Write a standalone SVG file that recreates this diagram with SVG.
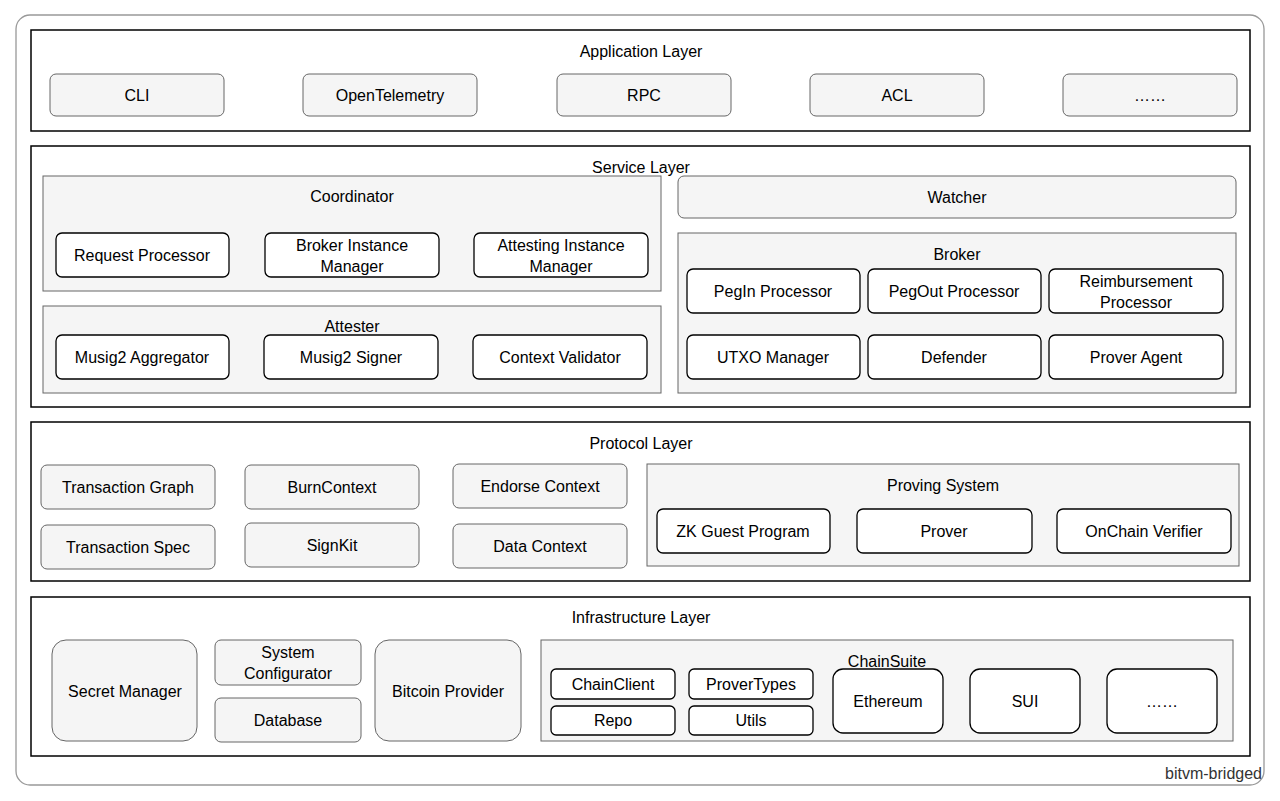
<svg xmlns="http://www.w3.org/2000/svg" width="1280" height="801" viewBox="0 0 1280 801">
<style>
text{font-family:"Liberation Sans",Arial,sans-serif;font-size:16px;fill:#000;text-anchor:middle;dominant-baseline:central}
.layer{fill:#fff;stroke:#000;stroke-width:1.5}
.g{fill:#f5f5f5;stroke:#666;stroke-width:1}
.w{fill:#fff;stroke:#000;stroke-width:1.3}
</style>
<rect x="16" y="15" width="1248" height="770" rx="14" fill="#fff" stroke="#999" stroke-width="1.3"/>
<text x="1262" y="773" style="text-anchor:end;fill:#333">bitvm-bridged</text>
<g id="app">
<rect class="layer" x="31" y="30" width="1219" height="101"/>
<text x="641" y="51">Application Layer</text>
<rect class="g" x="50" y="74" width="174" height="42" rx="6"/><text x="137" y="95">CLI</text>
<rect class="g" x="303" y="74" width="174" height="42" rx="6"/><text x="390" y="95">OpenTelemetry</text>
<rect class="g" x="557" y="74" width="174" height="42" rx="6"/><text x="644" y="95">RPC</text>
<rect class="g" x="810" y="74" width="174" height="42" rx="6"/><text x="897" y="95">ACL</text>
<rect class="g" x="1063" y="74" width="174" height="42" rx="6"/><text x="1150" y="95">……</text>
</g>
<g id="service">
<rect class="layer" x="31" y="146" width="1219" height="261"/>
<text x="641" y="167">Service Layer</text>
<rect class="g" x="43" y="176" width="618" height="115"/><text x="352" y="196">Coordinator</text>
<rect class="w" x="56" y="233" width="173" height="44" rx="6"/><text x="142" y="255">Request Processor</text>
<rect class="w" x="265" y="233" width="174" height="44" rx="6"/><text x="352" y="245">Broker Instance</text><text x="352" y="266">Manager</text>
<rect class="w" x="474" y="233" width="174" height="44" rx="6"/><text x="561" y="245">Attesting Instance</text><text x="561" y="266">Manager</text>
<rect class="g" x="43" y="306" width="618" height="87"/><text x="352" y="326">Attester</text>
<rect class="w" x="56" y="335" width="173" height="44" rx="6"/><text x="142" y="357">Musig2 Aggregator</text>
<rect class="w" x="264" y="335" width="174" height="44" rx="6"/><text x="351" y="357">Musig2 Signer</text>
<rect class="w" x="473" y="335" width="174" height="44" rx="6"/><text x="560" y="357">Context Validator</text>
<rect class="g" x="678" y="176" width="558" height="42" rx="6"/><text x="957" y="197">Watcher</text>
<rect class="g" x="678" y="233" width="558" height="160"/><text x="957" y="254">Broker</text>
<rect class="w" x="687" y="269" width="173" height="44" rx="6"/><text x="773" y="291">PegIn Processor</text>
<rect class="w" x="868" y="269" width="173" height="44" rx="6"/><text x="954" y="291">PegOut Processor</text>
<rect class="w" x="1049" y="269" width="174" height="44" rx="6"/><text x="1136" y="281">Reimbursement</text><text x="1136" y="302">Processor</text>
<rect class="w" x="687" y="335" width="173" height="44" rx="6"/><text x="773" y="357">UTXO Manager</text>
<rect class="w" x="868" y="335" width="173" height="44" rx="6"/><text x="954" y="357">Defender</text>
<rect class="w" x="1049" y="335" width="174" height="44" rx="6"/><text x="1136" y="357">Prover Agent</text>
</g>
<g id="protocol">
<rect class="layer" x="31" y="422" width="1219" height="159"/>
<text x="641" y="443">Protocol Layer</text>
<rect class="g" x="41" y="465" width="174" height="44" rx="6"/><text x="128" y="487">Transaction Graph</text>
<rect class="g" x="245" y="465" width="174" height="44" rx="6"/><text x="332" y="487">BurnContext</text>
<rect class="g" x="453" y="464" width="174" height="44" rx="6"/><text x="540" y="486">Endorse Context</text>
<rect class="g" x="41" y="525" width="174" height="44" rx="6"/><text x="128" y="547">Transaction Spec</text>
<rect class="g" x="245" y="523" width="174" height="44" rx="6"/><text x="332" y="545">SignKit</text>
<rect class="g" x="453" y="524" width="174" height="44" rx="6"/><text x="540" y="546">Data Context</text>
<rect class="g" x="647" y="464" width="592" height="102"/><text x="943" y="485">Proving System</text>
<rect class="w" x="657" y="509" width="173" height="44" rx="6"/><text x="743" y="531">ZK Guest Program</text>
<rect class="w" x="857" y="509" width="175" height="44" rx="6"/><text x="944" y="531">Prover</text>
<rect class="w" x="1057" y="509" width="174" height="44" rx="6"/><text x="1144" y="531">OnChain Verifier</text>
</g>
<g id="infra">
<rect class="layer" x="31" y="597" width="1219" height="159"/>
<text x="641" y="617">Infrastructure Layer</text>
<rect class="g" x="52" y="640" width="145" height="101" rx="14"/><text x="125" y="691">Secret Manager</text>
<rect class="g" x="215" y="640" width="146" height="45" rx="6"/><text x="288" y="652">System</text><text x="288" y="673">Configurator</text>
<rect class="g" x="215" y="698" width="146" height="44" rx="6"/><text x="288" y="720">Database</text>
<rect class="g" x="375" y="640" width="146" height="101" rx="14"/><text x="448" y="691">Bitcoin Provider</text>
<rect class="g" x="541" y="640" width="692" height="101"/><text x="887" y="661">ChainSuite</text>
<rect class="w" x="551" y="669" width="124" height="30" rx="5"/><text x="613" y="684">ChainClient</text>
<rect class="w" x="689" y="669" width="124" height="30" rx="5"/><text x="751" y="684">ProverTypes</text>
<rect class="w" x="551" y="706" width="124" height="29" rx="5"/><text x="613" y="720">Repo</text>
<rect class="w" x="689" y="706" width="124" height="29" rx="5"/><text x="751" y="720">Utils</text>
<rect class="w" x="833" y="669" width="110" height="64" rx="10"/><text x="888" y="701">Ethereum</text>
<rect class="w" x="970" y="669" width="110" height="64" rx="10"/><text x="1025" y="701">SUI</text>
<rect class="w" x="1107" y="669" width="110" height="64" rx="10"/><text x="1162" y="701">……</text>
</g>
<g id="connectors"/>
</svg>
